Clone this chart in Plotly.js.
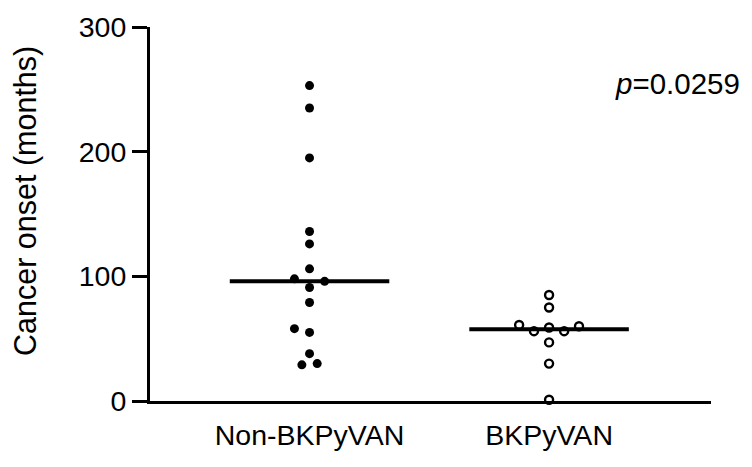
<!DOCTYPE html>
<html>
<head>
<meta charset="utf-8">
<script src="https://cdn.plot.ly/plotly-3.0.1.min.js"></script>
<style>html,body{margin:0;padding:0;background:#fff;}#chart{width:752px;height:467px;}</style>
</head>
<body>
<div id="chart"></div>
<script>
// Categories and tick labels
var categories = ["Non-BKPyVAN", "BKPyVAN"];
var categoryPos = [1, 2];

// Cancer onset (months)
var nonBKValues = [253, 235, 195, 136, 126, 106, 98, 96, 91, 79, 58, 55, 38, 29, 30];
var nonBKJitter = [0, 0, 0, 0, 0, 0, -0.063, 0.063, 0, 0, -0.063, 0, 0, -0.032, 0.032];

var bkValues = [85, 75, 61, 56, 59, 56, 60, 47, 30, 1];
var bkJitter = [0, 0, -0.125, -0.063, 0, 0.063, 0.125, 0, 0, 0];

var pText = "<i>p</i>=0.0259";
var yTitle = "Cancer onset (months)";

function median(a) {
  var s = a.slice().sort(function (x, y) { return x - y; });
  var n = s.length;
  return n % 2 ? s[(n - 1) / 2] : (s[n / 2 - 1] + s[n / 2]) / 2;
}
function xs(pos, jit) { return jit.map(function (j) { return pos + j; }); }

var medHalf = 0.333;
var FONT = "Arial, 'Liberation Sans', Helvetica, sans-serif";

var traces = [
  {
    x: xs(categoryPos[0], nonBKJitter), y: nonBKValues, type: "scatter", mode: "markers",
    marker: { size: 9, color: "#000", line: { width: 0 } }, cliponaxis: false, hoverinfo: "y"
  },
  {
    x: xs(categoryPos[1], bkJitter), y: bkValues, type: "scatter", mode: "markers",
    marker: { size: 8, color: "#fff", line: { width: 2.4, color: "#000" } }, cliponaxis: false, hoverinfo: "y"
  },
  {
    x: [categoryPos[0] - medHalf, categoryPos[0] + medHalf],
    y: [median(nonBKValues), median(nonBKValues)],
    type: "scatter", mode: "lines", line: { color: "#000", width: 4 }, hoverinfo: "skip"
  },
  {
    x: [categoryPos[1] - medHalf, categoryPos[1] + medHalf],
    y: [median(bkValues), median(bkValues)],
    type: "scatter", mode: "lines", line: { color: "#000", width: 4 }, hoverinfo: "skip"
  }
];

var layout = {
  width: 752, height: 467,
  margin: { l: 150, r: 41, t: 27, b: 66 },
  paper_bgcolor: "#fff", plot_bgcolor: "#fff",
  showlegend: false,
  font: { family: FONT, color: "#000", size: 28 },
  xaxis: {
    range: [0.334, 2.676], showgrid: false, zeroline: false,
    showline: true, linewidth: 3, linecolor: "#000",
    ticks: "", tickvals: categoryPos, ticktext: categories,
    ticklabelstandoff: 7,
    tickfont: { size: 28.5, family: FONT, color: "#000" }
  },
  yaxis: {
    range: [0, 300], showgrid: false, zeroline: false,
    showline: true, linewidth: 3, linecolor: "#000",
    ticks: "outside", ticklen: 15, tickwidth: 3, tickcolor: "#000",
    tickvals: [0, 100, 200, 300],
    tickfont: { size: 28.5, family: FONT, color: "#000" }
  },
  annotations: [
    {
      xref: "paper", yref: "paper", x: 1.055, y: 0.848, xanchor: "right", yanchor: "middle",
      text: pText, showarrow: false, font: { size: 29.5, family: FONT, color: "#000" }
    },
    {
      xref: "paper", yref: "paper", x: -0.222, y: 0.536, xanchor: "center", yanchor: "middle",
      textangle: -90, text: yTitle, showarrow: false,
      font: { size: 30.5, family: FONT, color: "#000" }
    }
  ]
};

Plotly.newPlot("chart", traces, layout, { displayModeBar: false, staticPlot: true });
</script>
</body>
</html>
